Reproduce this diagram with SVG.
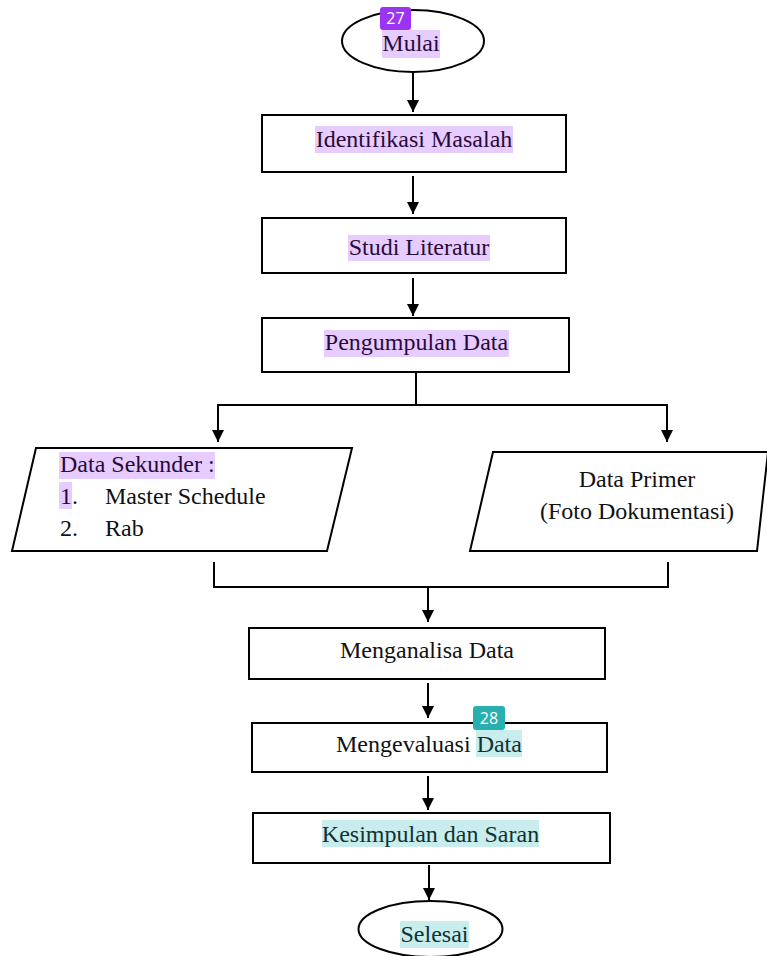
<svg xmlns="http://www.w3.org/2000/svg" width="767" height="956" viewBox="0 0 767 956">
<defs>
<marker id="ah" markerWidth="12" markerHeight="12" refX="12" refY="6" orient="auto" markerUnits="userSpaceOnUse" viewBox="0 0 12 12">
<path d="M0,0 L12,6 L0,12 Z" fill="#000"/>
</marker>
</defs>
<style>
.shape{fill:#fff;stroke:#000;stroke-width:2}
.t{font-family:"Liberation Serif","Times New Roman",serif;font-size:24px;fill:#111}
.tp{fill:#2a0a3a}
.tt{fill:#0d3333}
.hp{fill:#e6ccff}
.ht{fill:#c9ecec}
.c{fill:none;stroke:#000;stroke-width:2}
.ca{fill:none;stroke:#000;stroke-width:2;marker-end:url(#ah)}
.badge{font-family:"Open Sans","DejaVu Sans",sans-serif;font-size:16px;fill:#fff}
</style>
<rect width="767" height="956" fill="#fff"/>
<g id="connectors">
<line class="ca" x1="413" y1="73" x2="413" y2="112"/>
<line class="ca" x1="413" y1="176" x2="413" y2="214"/>
<line class="ca" x1="413" y1="278" x2="413" y2="316"/>
<path class="c" d="M416,373 V405 M217,405 H668"/>
<line class="ca" x1="218" y1="404" x2="218" y2="442"/>
<line class="ca" x1="667" y1="404" x2="667" y2="442"/>
<path class="c" d="M214,562 V587 H668 V562"/>
<line class="ca" x1="428" y1="587" x2="428" y2="622"/>
<line class="ca" x1="428" y1="683" x2="428" y2="718"/>
<line class="ca" x1="428" y1="776" x2="428" y2="810"/>
<line class="ca" x1="429" y1="865" x2="429" y2="900"/>
</g>
<g id="mulai">
<ellipse class="shape" cx="413" cy="41" rx="71" ry="31"/>
<rect class="hp" x="382" y="30" width="58" height="28"/>
<text class="t tp" x="411" y="51" text-anchor="middle">Mulai</text>
</g>
<g id="badge27">
<rect x="380" y="7" width="31" height="23" rx="3" fill="#9b33f5"/>
<text class="badge" x="395.5" y="24" text-anchor="middle">27</text>
</g>
<g id="identifikasi">
<rect class="shape" x="262" y="115" width="304" height="57"/>
<rect class="hp" x="315" y="126" width="198" height="27"/>
<text class="t tp" x="414" y="147" text-anchor="middle">Identifikasi Masalah</text>
</g>
<g id="studi">
<rect class="shape" x="262" y="218" width="304" height="55"/>
<rect class="hp" x="348" y="235" width="142" height="26"/>
<text class="t tp" x="419" y="255" text-anchor="middle">Studi Literatur</text>
</g>
<g id="pengumpulan">
<rect class="shape" x="262" y="318" width="307" height="54"/>
<rect class="hp" x="324" y="330" width="185" height="27"/>
<text class="t tp" x="416.5" y="350" text-anchor="middle">Pengumpulan Data</text>
</g>
<g id="sekunder">
<polygon class="shape" points="36,448 352,448 327,551 12,551"/>
<rect class="hp" x="59" y="452" width="156" height="27"/>
<text class="t tp" x="60" y="472">Data Sekunder :</text>
<rect class="hp" x="59" y="482" width="13" height="27"/>
<text class="t" x="60" y="504"><tspan class="tp">1</tspan>.</text>
<text class="t" x="105" y="504">Master Schedule</text>
<text class="t" x="60" y="536">2.</text>
<text class="t" x="105" y="536">Rab</text>
</g>
<g id="primer">
<polygon class="shape" points="493,452 768,452 757,551 470,551"/>
<text class="t" x="637" y="487" text-anchor="middle">Data Primer</text>
<text class="t" x="637" y="519" text-anchor="middle">(Foto Dokumentasi)</text>
</g>
<g id="menganalisa">
<rect class="shape" x="249" y="628" width="356" height="51"/>
<text class="t" x="427" y="658" text-anchor="middle">Menganalisa Data</text>
</g>
<g id="mengevaluasi">
<rect class="shape" x="252" y="723" width="355" height="49"/>
<rect class="ht" x="476" y="730" width="46" height="27"/>
<text class="t" x="336" y="752">Mengevaluasi <tspan class="tt">Data</tspan></text>
</g>
<g id="badge28">
<rect x="473" y="706" width="32" height="24" rx="3" fill="#2aafb0"/>
<text class="badge" x="489" y="724" text-anchor="middle">28</text>
</g>
<g id="kesimpulan">
<rect class="shape" x="253" y="813" width="357" height="50"/>
<rect class="ht" x="322" y="820" width="217" height="27"/>
<text class="t tt" x="430.5" y="842" text-anchor="middle">Kesimpulan dan Saran</text>
</g>
<g id="selesai">
<ellipse class="shape" cx="430.5" cy="929" rx="72" ry="28"/>
<rect class="ht" x="400" y="921" width="69" height="27"/>
<text class="t tt" x="434.5" y="942" text-anchor="middle">Selesai</text>
</g>
</svg>
